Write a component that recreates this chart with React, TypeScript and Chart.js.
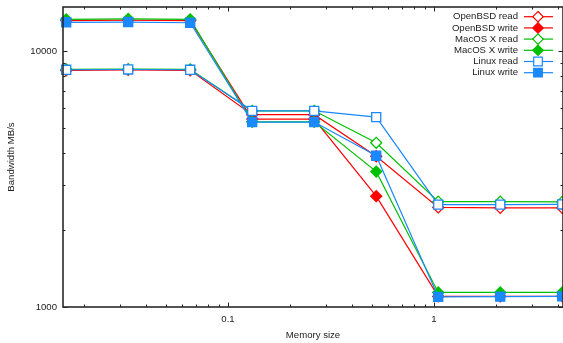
import React, { useEffect, useRef } from "react";
import { Chart, registerables } from "chart.js";

Chart.register(...registerables);

const memorySizes = [0.016384, 0.032768, 0.065536, 0.131072, 0.262144, 0.524288, 1.048576, 2.097152, 4.194304];

const openbsdRead = [8400, 8440, 8410, 5640, 5640, 3880, 2450, 2440, 2440];
const openbsdWrite = [13150, 13200, 13150, 5420, 5420, 2710, 1100, 1100, 1100];
const macRead = [8480, 8500, 8480, 5840, 5840, 4380, 2580, 2580, 2575];
const macWrite = [13300, 13350, 13300, 5290, 5290, 3380, 1140, 1140, 1140];
const linuxRead = [8450, 8470, 8450, 5840, 5840, 5520, 2510, 2510, 2515];
const linuxWrite = [12950, 12980, 12900, 5280, 5280, 3900, 1095, 1098, 1100];

const yTickLabels = [1000, 10000];
const xTickLabels = [0.1, 1];
const yMinorTicks = [2000, 3000, 4000, 5000, 6000, 7000, 8000, 9000];
const xMinorTicks = [0.02, 0.03, 0.04, 0.05, 0.06, 0.07, 0.08, 0.09, 0.2, 0.3, 0.4, 0.5, 0.6, 0.7, 0.8, 0.9, 2, 3, 4];

const RED = "#ff0000";
const GREEN = "#00c000";
const BLUE = "#1a88ff";
const FONT = "'Liberation Sans', Arial, sans-serif";

type SeriesDef = { label: string; data: number[]; color: string; style: string; filled: boolean };

const seriesDefs: SeriesDef[] = [
  { label: "OpenBSD read", data: openbsdRead, color: RED, style: "rectRot", filled: false },
  { label: "OpenBSD write", data: openbsdWrite, color: RED, style: "rectRot", filled: true },
  { label: "MacOS X read", data: macRead, color: GREEN, style: "rectRot", filled: false },
  { label: "MacOS X write", data: macWrite, color: GREEN, style: "rectRot", filled: true },
  { label: "Linux read", data: linuxRead, color: BLUE, style: "rect", filled: false },
  { label: "Linux write", data: linuxWrite, color: BLUE, style: "rect", filled: true },
];

const framePlugin = {
  id: "frame",
  afterDraw(chart: any) {
    const { ctx, chartArea } = chart;
    const x = chart.scales.x;
    const y = chart.scales.y;
    const { left, right, top, bottom } = chartArea;
    ctx.save();
    ctx.strokeStyle = "#222";
    ctx.lineWidth = 1;
    ctx.beginPath();
    const tick = (v: number, len: number, axis: "x" | "y") => {
      if (axis === "x") {
        const px = Math.round(x.getPixelForValue(v)) + 0.5;
        ctx.moveTo(px, bottom);
        ctx.lineTo(px, bottom - len);
        ctx.moveTo(px, top);
        ctx.lineTo(px, top + len);
      } else {
        const py = Math.round(y.getPixelForValue(v)) + 0.5;
        ctx.moveTo(left, py);
        ctx.lineTo(left + len, py);
        ctx.moveTo(right, py);
        ctx.lineTo(right - len, py);
      }
    };
    xMinorTicks.forEach((v) => tick(v, 2.5, "x"));
    xTickLabels.forEach((v) => tick(v, 4.5, "x"));
    yMinorTicks.forEach((v) => tick(v, 2.5, "y"));
    yTickLabels.forEach((v) => tick(v, 4.5, "y"));
    ctx.stroke();
    ctx.lineWidth = 1.6;
    ctx.strokeStyle = "#2a2a2a";
    ctx.strokeRect(left, top, right - left, bottom - top);

    // legend
    ctx.font = `9.6px ${FONT}`;
    ctx.textAlign = "right";
    ctx.textBaseline = "middle";
    seriesDefs.forEach((s, i) => {
      const ly = 16.7 + i * 11.2;
      ctx.fillStyle = "#222";
      ctx.fillText(s.label, 518, ly);
      ctx.strokeStyle = s.color;
      ctx.lineWidth = 1.2;
      ctx.beginPath();
      ctx.moveTo(524, ly);
      ctx.lineTo(553, ly);
      ctx.stroke();
      const cx = 538;
      ctx.beginPath();
      if (s.style === "rectRot") {
        const r = 5.2;
        ctx.moveTo(cx, ly - r);
        ctx.lineTo(cx + r, ly);
        ctx.lineTo(cx, ly + r);
        ctx.lineTo(cx - r, ly);
        ctx.closePath();
      } else {
        const h = 4.3;
        ctx.rect(cx - h, ly - h, 2 * h, 2 * h);
      }
      ctx.fillStyle = s.filled ? s.color : "#fff";
      ctx.fill();
      ctx.stroke();
    });
    ctx.restore();
  },
};

const noPad = (scale: any) => {
  scale.paddingTop = 0;
  scale.paddingBottom = 0;
  scale.paddingLeft = 0;
  scale.paddingRight = 0;
};

export default function App() {
  const ref = useRef<HTMLCanvasElement | null>(null);
  useEffect(() => {
    if (!ref.current) return;
    const n = seriesDefs.length;
    const chart = new Chart(ref.current, {
      type: "line",
      data: {
        datasets: seriesDefs.map((s, i) => ({
          label: s.label,
          data: memorySizes.map((m, j) => ({ x: m, y: s.data[j] })),
          borderColor: s.color,
          borderWidth: 1.2,
          backgroundColor: s.filled ? s.color : "#ffffff",
          pointBackgroundColor: s.filled ? s.color : "#ffffff",
          pointBorderColor: s.color,
          pointBorderWidth: 1.3,
          pointStyle: s.style as any,
          pointRadius: s.style === "rect" ? 6.4 : 5.5,
          tension: 0,
          fill: false,
          order: n - i,
          clip: false as any,
        })),
      },
      options: {
        animation: false,
        responsive: false,
        devicePixelRatio: 1,
        layout: { autoPadding: false, padding: { top: 7, right: 0, left: 0, bottom: 0 } },
        plugins: { legend: { display: false }, tooltip: { enabled: false } },
        scales: {
          x: {
            type: "logarithmic",
            min: 0.01581,
            max: 4.23,
            afterBuildTicks: (scale: any) => {
              scale.ticks = xTickLabels.map((v) => ({ value: v }));
            },
            afterFit: (scale: any) => {
              scale.height = 36;
              noPad(scale);
            },
            grid: { display: false, drawTicks: false },
            border: { display: false },
            ticks: {
              autoSkip: false,
              maxRotation: 0,
              padding: 7,
              color: "#222",
              font: { family: FONT, size: 9.6 },
              callback: (v: any) => String(v),
            },
            title: {
              display: true,
              text: "Memory size",
              color: "#222",
              font: { family: FONT, size: 9.6 },
              padding: { top: 0, bottom: 2 },
            },
          },
          y: {
            type: "logarithmic",
            min: 1000,
            max: 14860,
            afterBuildTicks: (scale: any) => {
              scale.ticks = yTickLabels.map((v) => ({ value: v }));
            },
            afterFit: (scale: any) => {
              scale.width = 63;
              noPad(scale);
            },
            grid: { display: false, drawTicks: false },
            border: { display: false },
            ticks: {
              autoSkip: false,
              padding: 6,
              color: "#222",
              font: { family: FONT, size: 9.6 },
              callback: (v: any) => String(v),
            },
            title: {
              display: true,
              text: "Bandwidth MB/s",
              color: "#222",
              font: { family: FONT, size: 9.6 },
              padding: { top: 6, bottom: 0 },
            },
          },
        },
      },
      plugins: [framePlugin],
    });
    return () => chart.destroy();
  }, []);
  return (
    <div style={{ position: "fixed", left: 0, top: 0, width: 563, height: 343, overflow: "hidden", background: "#fff" }}>
      <canvas ref={ref} width={563} height={343} style={{ display: "block", width: 563, height: 343 }} />
    </div>
  );
}
